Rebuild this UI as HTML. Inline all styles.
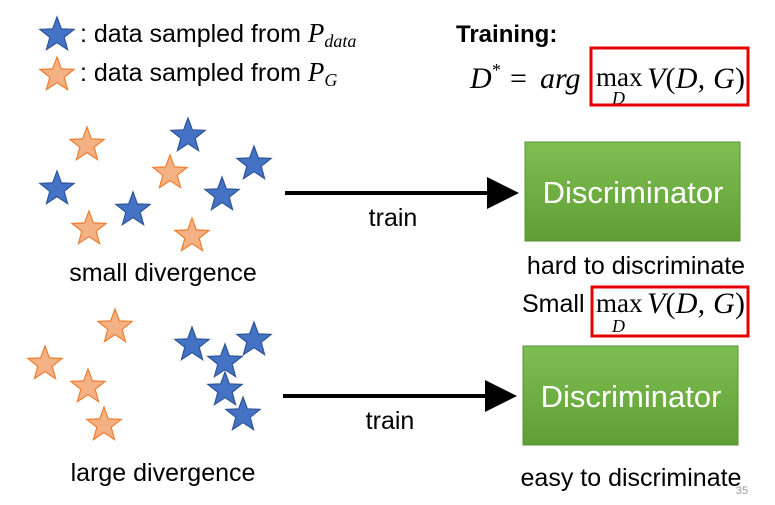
<!DOCTYPE html>
<html><head><meta charset="utf-8"><style>
body{margin:0;background:#fff;}
svg{display:block}
.t{font-family:"Liberation Sans",sans-serif;fill:#000}
.m{font-family:"Liberation Serif",serif;font-style:italic;fill:#000}
.r{font-family:"Liberation Serif",serif;fill:#000}
</style></head><body>
<svg width="775" height="505" viewBox="0 0 775 505">
<defs>
<linearGradient id="g" x1="0" y1="0" x2="0" y2="1"><stop offset="0" stop-color="#7fbf52"/><stop offset="1" stop-color="#5e9e33"/></linearGradient>
<marker id="ah" markerWidth="8" markerHeight="8" refX="7" refY="4" orient="auto" markerUnits="strokeWidth"><path d="M0,0 L8,4 L0,8 Z" fill="#000"/></marker>
</defs>
<g id="stars"></g>
<text class="t" x="80" y="42" font-size="25">: data sampled from <tspan class="m" font-size="27">P</tspan><tspan class="m" font-size="18" dy="5">data</tspan></text>
<text class="t" x="80" y="81" font-size="25">: data sampled from <tspan class="m" font-size="27">P</tspan><tspan class="m" font-size="18" dy="5">G</tspan></text>
<text class="t" x="456" y="42" font-size="24" font-weight="bold">Training:</text>
<g>
<text class="m" x="470" y="88" font-size="30">D</text>
<text class="r" x="492" y="76" font-size="18">*</text>
<text class="r" x="510" y="88" font-size="30">=</text>
<text class="m" x="540" y="88" font-size="30">arg</text>
</g>
<text class="r" x="596" y="86" font-size="27">max</text>
<text class="m" x="612" y="104" font-size="18">D</text>
<text class="m" x="647" y="88" font-size="30" textLength="98">V<tspan font-style="normal">(</tspan>D, G<tspan font-style="normal">)</tspan></text>
<rect x="591" y="48" width="157" height="57" fill="none" stroke="#e60000" stroke-width="3"/>

<line x1="285" y1="193" x2="515" y2="193" stroke="#000" stroke-width="4" marker-end="url(#ah)"/>
<text class="t" x="393" y="226" font-size="25" text-anchor="middle">train</text>
<rect x="525" y="142" width="215" height="99" fill="url(#g)" stroke="#5a8f3a"/>
<text class="t" x="633" y="203" font-size="31" text-anchor="middle" style="fill:#fff">Discriminator</text>
<text class="t" x="163" y="281" font-size="25" text-anchor="middle">small divergence</text>
<text class="t" x="636" y="274" font-size="25" text-anchor="middle">hard to discriminate</text>
<text class="t" x="522" y="312" font-size="25">Small</text>
<text class="r" x="596" y="312" font-size="27">max</text>
<text class="m" x="612" y="332" font-size="18">D</text>
<text class="m" x="647" y="313" font-size="30" textLength="98">V<tspan font-style="normal">(</tspan>D, G<tspan font-style="normal">)</tspan></text>
<rect x="592" y="287" width="156" height="49" fill="none" stroke="#e60000" stroke-width="3"/>

<line x1="283" y1="396" x2="513" y2="396" stroke="#000" stroke-width="4" marker-end="url(#ah)"/>
<text class="t" x="390" y="429" font-size="25" text-anchor="middle">train</text>
<rect x="523" y="346" width="215" height="99" fill="url(#g)" stroke="#5a8f3a"/>
<text class="t" x="631" y="407" font-size="31" text-anchor="middle" style="fill:#fff">Discriminator</text>
<text class="t" x="163" y="481" font-size="25" text-anchor="middle">large divergence</text>
<text class="t" x="631" y="486" font-size="25" text-anchor="middle">easy to discriminate</text>
<text class="t" x="742" y="494" font-size="11" text-anchor="middle" style="fill:#999">35</text>
</svg>
<script>
const blueX=[57,188,254,57,222,133,192,254,225,225,243];
const blueY=[33,134,162,187,193,208,343,338,360,388,413];
const orangeX=[57,87,170,89,192,115,45,88,104];
const orangeY=[73,143,171,227,234,325,362,385,423];
const g=document.getElementById('stars');
function star(cx,cy,r,fill,stroke){
  const pts=[];
  for(let i=0;i<10;i++){const a=-Math.PI/2+i*Math.PI/5;const rr=i%2?r*0.42:r;pts.push((cx+rr*Math.cos(a)).toFixed(1)+','+(cy+rr*Math.sin(a)).toFixed(1));}
  const p=document.createElementNS('http://www.w3.org/2000/svg','polygon');
  p.setAttribute('points',pts.join(' '));p.setAttribute('fill',fill);p.setAttribute('stroke',stroke);p.setAttribute('stroke-width','1.2');
  return p;
}
for(let i=0;i<blueX.length;i++){const s=star(blueX[i],blueY[i]+2,18,'#4472c4','#2f5597');


g.appendChild(s);}
for(let i=0;i<orangeX.length;i++){const s=star(orangeX[i],orangeY[i]+2,18,'#f4b183','#ed7d31');


g.appendChild(s);}
</script>
</body></html>
